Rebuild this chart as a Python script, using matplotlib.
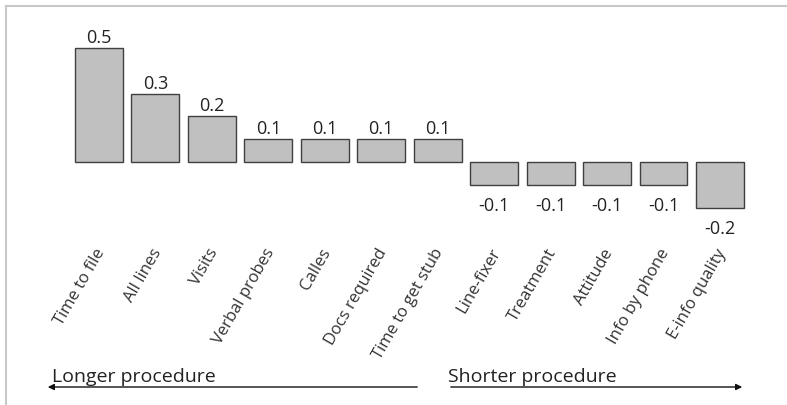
"""Bar chart of procedure effects: longer vs shorter."""

import matplotlib.pyplot as plt
from matplotlib.lines import Line2D

plt.rcParams['font.family'] = ['Open Sans', 'DejaVu Sans']

categories = ["Time to file", "All lines", "Visits", "Verbal probes", "Calles",
              "Docs required", "Time to get stub", "Line-fixer", "Treatment",
              "Attitude", "Info by phone", "E-info quality"]
values = [0.5, 0.3, 0.2, 0.1, 0.1, 0.1, 0.1, -0.1, -0.1, -0.1, -0.1, -0.2]
value_labels = ["0.5", "0.3", "0.2", "0.1", "0.1", "0.1", "0.1",
                "-0.1", "-0.1", "-0.1", "-0.1", "-0.2"]

W, H = 787, 406
fig = plt.figure(figsize=(W / 100, H / 100), dpi=100)
ax = fig.add_axes([0, 0, 1, 1])
ax.axis('off')

x = list(range(len(categories)))
ax.bar(x, values, width=0.85, color='#c0c0c0', edgecolor='#404040', linewidth=1)

# pixel-based limits so the layout matches the original
px_per_unit_x = 56.45
px_per_unit_y = 228.0
xmin = -99 / px_per_unit_x
ax.set_xlim(xmin, xmin + W / px_per_unit_x)
ymax = 163 / px_per_unit_y
ax.set_ylim(ymax - H / px_per_unit_y, ymax)

for xi, v, lab in zip(x, values, value_labels):
    if v >= 0:
        ax.annotate(lab, (xi, v), xytext=(0, 1.5), textcoords='offset points',
                    ha='center', va='bottom', fontsize=13, color='#222222')
    else:
        ax.annotate(lab, (xi, v), xytext=(0, -8), textcoords='offset points',
                    ha='center', va='top', fontsize=13, color='#222222')

label_y = ymax - 246 / px_per_unit_y
for xi, name in zip(x, categories):
    ax.text(xi - 0.08, label_y, name, rotation=60, rotation_mode='anchor',
            ha='right', va='top', fontsize=12, color='#333333')

# direction arrows
ax.annotate("", xy=(45 / W, 1 - 388 / H), xytext=(420 / W, 1 - 388 / H),
            xycoords='axes fraction',
            arrowprops=dict(arrowstyle='-|>', color='#111111', lw=1,
                            mutation_scale=9))
ax.annotate("", xy=(745 / W, 1 - 388 / H), xytext=(448 / W, 1 - 388 / H),
            xycoords='axes fraction',
            arrowprops=dict(arrowstyle='-|>', color='#111111', lw=1,
                            mutation_scale=9))
ax.text(52 / W, 1 - 382 / H, "Longer procedure", transform=ax.transAxes,
        ha='left', va='baseline', fontsize=14, color='#222222')
ax.text(448 / W, 1 - 382 / H, "Shorter procedure", transform=ax.transAxes,
        ha='left', va='baseline', fontsize=14, color='#222222')

# light frame on the left and top
fig.add_artist(Line2D([6 / W, 6 / W], [0, 1 - 7 / H], color='#c8c8c8', lw=1.5))
fig.add_artist(Line2D([6 / W, 1], [1 - 7 / H, 1 - 7 / H], color='#c8c8c8', lw=1.5))

plt.savefig("out.png", dpi=100)
